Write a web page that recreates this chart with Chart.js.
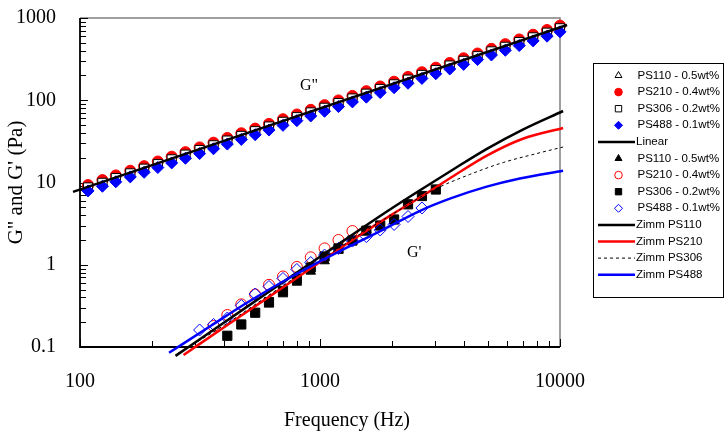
<!DOCTYPE html>
<html>
<head>
<meta charset="utf-8">
<script src="https://cdn.jsdelivr.net/npm/chart.js@4.4.1/dist/chart.umd.min.js"></script>
<style>
  html, body { margin: 0; padding: 0; background: #fff; }
</style>
</head>
<body>
<canvas id="chart" width="727" height="446"></canvas>
<script>
// G'' (loss modulus) - all four solutions measured on the same frequency sweep
const freqG2 = [108, 124, 141, 162, 185, 211, 241, 275, 315, 360, 411, 470, 537, 613, 701, 801, 915, 1045, 1194, 1365,
  1560, 1782, 2036, 2327, 2659, 3038, 3472, 3966, 4533, 5180, 5918, 6763, 7727, 8831, 10000];
const ps110G2 = [8.9, 10.2, 11.6, 13.3, 15.1, 17.3, 19.7, 22.4, 25.6, 29.2, 33.3, 38.0, 43.3, 49.3, 56.3, 64.2, 73.2, 83.5, 95.2, 109,
  124, 141, 161, 184, 209, 239, 272, 310, 354, 404, 460, 525, 599, 683, 772];
const ps210G2 = [9.3, 10.7, 12.2, 13.9, 15.8, 18.0, 20.6, 23.4, 26.7, 30.5, 34.8, 39.7, 45.2, 51.6, 58.8, 67.1, 76.5, 87.2, 99.5, 113,
  129, 147, 168, 192, 219, 249, 284, 324, 370, 422, 481, 549, 626, 714, 807];
const ps306G2 = [8.7, 9.9, 11.3, 12.9, 14.7, 16.7, 19.1, 21.8, 24.8, 28.3, 32.3, 36.8, 42.0, 47.9, 54.6, 62.2, 71.0, 80.9, 92.3, 105,
  120, 137, 156, 178, 203, 232, 264, 301, 343, 392, 446, 509, 581, 662, 749];
const ps488G2 = [7.9, 9.0, 10.2, 11.7, 13.3, 15.2, 17.3, 19.7, 22.5, 25.7, 29.3, 33.4, 38.1, 43.4, 49.5, 56.5, 64.4, 73.4, 83.7, 95.5,
  109, 124, 142, 161, 184, 210, 240, 273, 312, 355, 405, 462, 527, 601, 679];

// linear fit through G''
const linearFreq = [93.5, 10700];
const linearG = [7.7, 822];

// G' (storage modulus)
const ps110FreqG1 = [613, 701, 801, 915, 1045, 1194, 1365, 1560];
const ps110G1 = [0.33, 0.44, 0.61, 0.83, 1.11, 1.49, 1.94, 2.65];
const ps210FreqG1 = [360, 411, 470, 537, 613, 701, 801, 915, 1045, 1194, 1365];
const ps210G1 = [0.18, 0.245, 0.33, 0.435, 0.57, 0.72, 0.94, 1.23, 1.58, 2.0, 2.57];
const ps306FreqG1 = [411, 470, 537, 613, 701, 801, 915, 1045, 1194, 1365, 1560, 1782, 2036, 2327, 2659, 3038];
const ps306G1 = [0.137, 0.188, 0.261, 0.352, 0.48, 0.671, 0.926, 1.26, 1.58, 1.97, 2.6, 3.0, 3.55, 5.43, 6.85, 8.22];
const ps488FreqG1 = [315, 360, 411, 470, 537, 613, 701, 801, 915, 1045, 1194, 1365, 1560, 1782, 2036, 2327, 2659];
const ps488G1 = [0.161, 0.188, 0.225, 0.32, 0.441, 0.544, 0.681, 0.876, 1.065, 1.31, 1.58, 1.94, 2.2, 2.65, 3.09, 3.86, 4.9];

// Zimm model curves
const zimm110Freq = [250, 400, 600, 1000, 1500, 2000, 2600, 3600, 5000, 7000, 10300];
const zimm110G = [0.078, 0.20, 0.45, 1.25, 2.8, 4.9, 8.0, 14.5, 26, 44, 74];
const zimm210Freq = [270, 400, 600, 1000, 1500, 2000, 2700, 3600, 5000, 7000, 10300];
const zimm210G = [0.080, 0.175, 0.39, 1.08, 2.4, 4.1, 7.0, 12.0, 21.5, 34, 46];
const zimm306Freq = [255, 400, 600, 1000, 1500, 2000, 2965, 4200, 5800, 8000, 10300];
const zimm306G = [0.083, 0.185, 0.41, 1.12, 2.45, 4.1, 8.1, 12.5, 17.5, 22.5, 27];
const zimm488Freq = [235, 350, 500, 750, 1000, 1350, 1800, 2600, 3500, 4950, 6800, 10300];
const zimm488G = [0.085, 0.18, 0.35, 0.70, 1.1, 1.72, 2.6, 4.5, 6.4, 8.9, 11.2, 13.9];

const xTicks = [100, 1000, 10000];
const yTicks = [0.1, 1, 10, 100, 1000];

const serif = '"Liberation Serif", "Times New Roman", serif';
const sans = '"Liberation Sans", Arial, sans-serif';
const RED = '#ff0000';
const BLUE = '#0000ff';

function pts(xs, ys) {
  return xs.map((x, i) => ({ x: x, y: ys[i] }));
}

function markers(label, xs, ys, style, r, fill, stroke, legendR) {
  return {
    label: label, data: pts(xs, ys), showLine: false,
    pointStyle: style, pointRadius: r, pointHoverRadius: r,
    pointBackgroundColor: fill, pointBorderColor: stroke, pointBorderWidth: 1,
    legendRadius: legendR
  };
}

function curve(label, xs, ys, color, width, dash) {
  return {
    label: label, data: pts(xs, ys), showLine: true,
    borderColor: color, borderWidth: width, borderDash: dash || [],
    pointRadius: 0, pointHoverRadius: 0, cubicInterpolationMode: 'monotone', fill: false
  };
}

const datasets = [
  markers('PS110 - 0.5wt%', freqG2, ps110G2, 'triangle', 5.5, '#fff', '#000', 4),
  markers('PS210 - 0.4wt%', freqG2, ps210G2, 'circle', 5.5, RED, RED, 3.8),
  markers('PS306 - 0.2wt%', freqG2, ps306G2, 'rect', 6.5, '#fff', '#000', 4.5),
  markers('PS488 - 0.1wt%', freqG2, ps488G2, 'rectRot', 6, BLUE, BLUE, 4),
  curve('Linear', linearFreq, linearG, '#000', 2.5),
  markers('PS110 - 0.5wt%', ps110FreqG1, ps110G1, 'triangle', 5.5, '#000', '#000', 4),
  markers('PS210 - 0.4wt%', ps210FreqG1, ps210G1, 'circle', 5.5, 'rgba(0,0,0,0)', RED, 3.8),
  markers('PS306 - 0.2wt%', ps306FreqG1, ps306G1, 'rect', 6.5, '#000', '#000', 4.5),
  markers('PS488 - 0.1wt%', ps488FreqG1, ps488G1, 'rectRot', 6, 'rgba(0,0,0,0)', BLUE, 4),
  curve('Zimm PS110', zimm110Freq, zimm110G, '#000', 2.5),
  curve('Zimm PS210', zimm210Freq, zimm210G, RED, 2.5),
  curve('Zimm PS306', zimm306Freq, zimm306G, '#000', 1, [3, 3]),
  curve('Zimm PS488', zimm488Freq, zimm488G, BLUE, 2.5)
];
// later series are drawn on top, like the original spreadsheet chart
datasets.forEach((d, i) => { d.order = 100 - i; d.clip = false; });

// frame + inward ticks, drawn under the data
const frame = {
  id: 'frame',
  beforeDatasetsDraw(chart) {
    const ctx = chart.ctx;
    const a = chart.chartArea;
    const x = chart.scales.x, y = chart.scales.y;
    ctx.save();
    ctx.lineWidth = 1.5;
    ctx.strokeStyle = '#808080';
    ctx.beginPath();
    ctx.moveTo(a.left, a.top); ctx.lineTo(a.right, a.top); ctx.lineTo(a.right, a.bottom);
    ctx.stroke();

    ctx.lineWidth = 1;
    ctx.strokeStyle = '#000';
    ctx.beginPath();
    for (let d = -1; d <= 3; d++) {
      for (let k = 1; k <= 9; k++) {
        const v = k * Math.pow(10, d);
        if (v > 1000.001) break;
        const py = Math.round(y.getPixelForValue(v)) + 0.5;
        ctx.moveTo(a.left, py); ctx.lineTo(a.left + (k === 1 ? 8 : 6), py);
      }
    }
    for (let d = 2; d <= 4; d++) {
      for (let k = 1; k <= 9; k++) {
        const v = k * Math.pow(10, d);
        if (v > 10000.001) break;
        const px = Math.round(x.getPixelForValue(v)) + 0.5;
        ctx.moveTo(px, a.bottom); ctx.lineTo(px, a.bottom - (k === 1 ? 8 : 6));
      }
    }
    ctx.stroke();

    ctx.lineWidth = 1.8;
    ctx.beginPath();
    ctx.moveTo(a.left, a.top); ctx.lineTo(a.left, a.bottom); ctx.lineTo(a.right, a.bottom);
    ctx.stroke();
    ctx.restore();
  }
};

// axis title offset, curve labels and the boxed legend
const extras = {
  id: 'extras',
  afterDraw(chart) {
    const ctx = chart.ctx;
    ctx.save();
    ctx.fillStyle = '#000';
    ctx.textBaseline = 'middle';
    ctx.textAlign = 'center';
    ctx.font = '20px ' + serif;
    ctx.fillText('Frequency (Hz)', 347, 421);

    ctx.font = '16px ' + serif;
    ctx.textAlign = 'left';
    ctx.fillText('G"', 300, 86);
    ctx.fillText("G'", 407, 253);

    ctx.strokeStyle = '#000';
    ctx.lineWidth = 1;
    ctx.strokeRect(593.5, 63.5, 130, 234);
    ctx.font = '11.5px ' + sans;
    chart.data.datasets.forEach((d, i) => {
      const ly = 75.5 + i * 16.6;
      if (d.showLine) {
        ctx.strokeStyle = d.borderColor;
        ctx.lineWidth = d.borderWidth;
        ctx.setLineDash(d.borderDash);
        ctx.beginPath();
        ctx.moveTo(598, ly); ctx.lineTo(635, ly);
        ctx.stroke();
        ctx.setLineDash([]);
      } else {
        ctx.fillStyle = d.pointBackgroundColor === 'rgba(0,0,0,0)' ? '#fff' : d.pointBackgroundColor;
        ctx.strokeStyle = d.pointBorderColor;
        ctx.lineWidth = 1;
        Chart.helpers.drawPoint(ctx, { pointStyle: d.pointStyle, radius: d.legendRadius, rotation: 0, borderWidth: 1 }, 618.5, ly);
      }
      ctx.fillStyle = '#000';
      ctx.fillText(d.label, d.showLine ? 636 : 637.5, ly);
    });
    ctx.restore();
  }
};

new Chart(document.getElementById('chart'), {
  type: 'scatter',
  data: { datasets: datasets },
  options: {
    responsive: false,
    animation: false,
    devicePixelRatio: 1,
    layout: { padding: { top: 18, right: 167, left: 0, bottom: 0 } },
    plugins: { legend: { display: false }, tooltip: { enabled: false } },
    scales: {
      x: {
        type: 'logarithmic', position: 'bottom', min: 100, max: 10000,
        afterBuildTicks: s => { s.ticks = xTicks.map(v => ({ value: v })); },
        afterFit: s => { s.height = 99; s.paddingLeft = 0; s.paddingRight = 0; },
        grid: { display: false }, border: { display: false },
        ticks: {
          color: '#000', font: { family: serif, size: 20 }, padding: 15,
          maxRotation: 0, autoSkip: false, callback: v => String(v)
        }
      },
      y: {
        type: 'logarithmic', position: 'left', min: 0.1, max: 1000,
        afterBuildTicks: s => { s.ticks = yTicks.map(v => ({ value: v })); },
        afterFit: s => { s.width = 80; s.paddingTop = 0; s.paddingBottom = 0; },
        grid: { display: false }, border: { display: false },
        title: {
          display: true, text: 'G" and G\' (Pa)', color: '#000',
          font: { family: serif, size: 21 }, padding: { top: 4, bottom: 0 }
        },
        ticks: {
          color: '#000', font: { family: serif, size: 20 }, padding: 16,
          autoSkip: false, callback: v => String(v)
        }
      }
    }
  },
  plugins: [frame, extras]
});
</script>
</body>
</html>
